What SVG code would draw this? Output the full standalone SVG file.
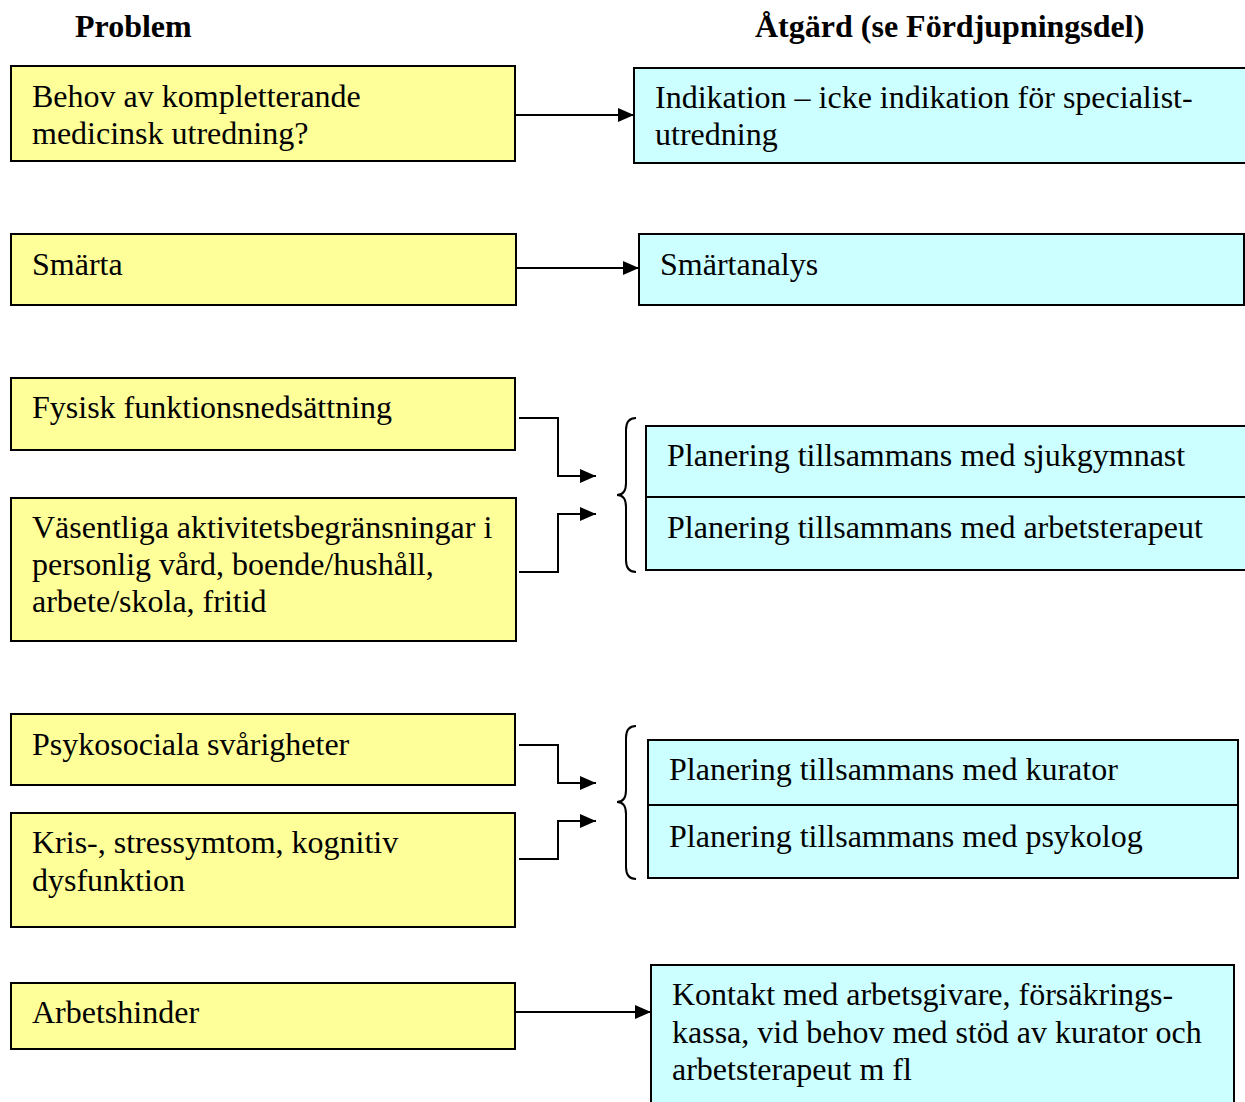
<svg xmlns="http://www.w3.org/2000/svg" width="1245" height="1102" viewBox="0 0 1245 1102">
<style>
text{font-family:"Liberation Serif","Times New Roman",serif;font-size:32px;fill:#000}
.h{font-weight:bold;font-size:32px}
.y{fill:#FFFF99;stroke:#000;stroke-width:2}
.c{fill:#CCFFFF;stroke:#000;stroke-width:2}
.ln{fill:none;stroke:#000;stroke-width:2}
</style>
<defs>
<marker id="ah" markerWidth="16" markerHeight="14" refX="16" refY="7" orient="auto" markerUnits="userSpaceOnUse">
<path d="M0,0 L16,7 L0,14 Z" fill="#000"/>
</marker>
</defs>
<rect width="1245" height="1102" fill="#fff"/>
<text class="h" x="75" y="37">Problem</text>
<text class="h" x="755" y="37">Åtgärd (se Fördjupningsdel)</text>

<g id="p1"><rect class="y" x="11" y="66" width="504" height="95"/><text x="32" y="107">Behov av kompletterande</text><text x="32" y="144">medicinsk utredning?</text></g>
<g id="a1"><rect class="c" x="634" y="68" width="620" height="95"/><text x="655" y="108">Indikation – icke indikation för specialist-</text><text x="655" y="145">utredning</text></g>

<g id="p2"><rect class="y" x="11" y="234" width="505" height="71"/><text x="32" y="275">Smärta</text></g>
<g id="a2"><rect class="c" x="639" y="234" width="605" height="71"/><text x="660" y="275">Smärtanalys</text></g>

<g id="p3"><rect class="y" x="11" y="378" width="504" height="72"/><text x="32" y="418">Fysisk funktionsnedsättning</text></g>
<g id="p4"><rect class="y" x="11" y="498" width="505" height="143"/><text x="32" y="538">Väsentliga aktivitetsbegränsningar i</text><text x="32" y="575">personlig vård, boende/hushåll,</text><text x="32" y="612">arbete/skola, fritid</text></g>
<g id="a3"><rect class="c" x="646" y="426" width="610" height="144"/><line class="ln" x1="646" y1="497" x2="1245" y2="497"/><text x="667" y="466">Planering tillsammans med sjukgymnast</text><text x="667" y="538">Planering tillsammans med arbetsterapeut</text></g>

<g id="p5"><rect class="y" x="11" y="714" width="504" height="71"/><text x="32" y="755">Psykosociala svårigheter</text></g>
<g id="p6"><rect class="y" x="11" y="813" width="504" height="114"/><text x="32" y="853">Kris-, stressymtom, kognitiv</text><text x="32" y="891">dysfunktion</text></g>
<g id="a4"><rect class="c" x="648" y="740" width="590" height="138"/><line class="ln" x1="648" y1="805" x2="1238" y2="805"/><text x="669" y="780">Planering tillsammans med kurator</text><text x="669" y="847">Planering tillsammans med psykolog</text></g>

<g id="p7"><rect class="y" x="11" y="983" width="504" height="66"/><text x="32" y="1023">Arbetshinder</text></g>
<g id="a5"><rect class="c" x="651" y="965" width="583" height="150"/><text x="672" y="1005">Kontakt med arbetsgivare, försäkrings-</text><text x="672" y="1043">kassa, vid behov med stöd av kurator och</text><text x="672" y="1080">arbetsterapeut m fl</text></g>

<g id="connectors">
<line class="ln" x1="515" y1="115" x2="634" y2="115" marker-end="url(#ah)"/>
<line class="ln" x1="516" y1="268" x2="639" y2="268" marker-end="url(#ah)"/>
<polyline class="ln" points="519,418 558,418 558,476 596,476" marker-end="url(#ah)"/>
<polyline class="ln" points="519,572 558,572 558,514 596,514" marker-end="url(#ah)"/>
<polyline class="ln" points="519,745 558,745 558,783 596,783" marker-end="url(#ah)"/>
<polyline class="ln" points="519,859 558,859 558,821 596,821" marker-end="url(#ah)"/>
<line class="ln" x1="516" y1="1012" x2="651" y2="1012" marker-end="url(#ah)"/>
<path class="ln" d="M636,418 Q626,418 626,430 L626,483 Q626,495 617,495 Q626,495 626,507 L626,560 Q626,572 636,572"/>
<path class="ln" d="M636,726 Q626,726 626,738 L626,790 Q626,802 617,802 Q626,802 626,814 L626,867 Q626,879 636,879"/>
</g>
</svg>
